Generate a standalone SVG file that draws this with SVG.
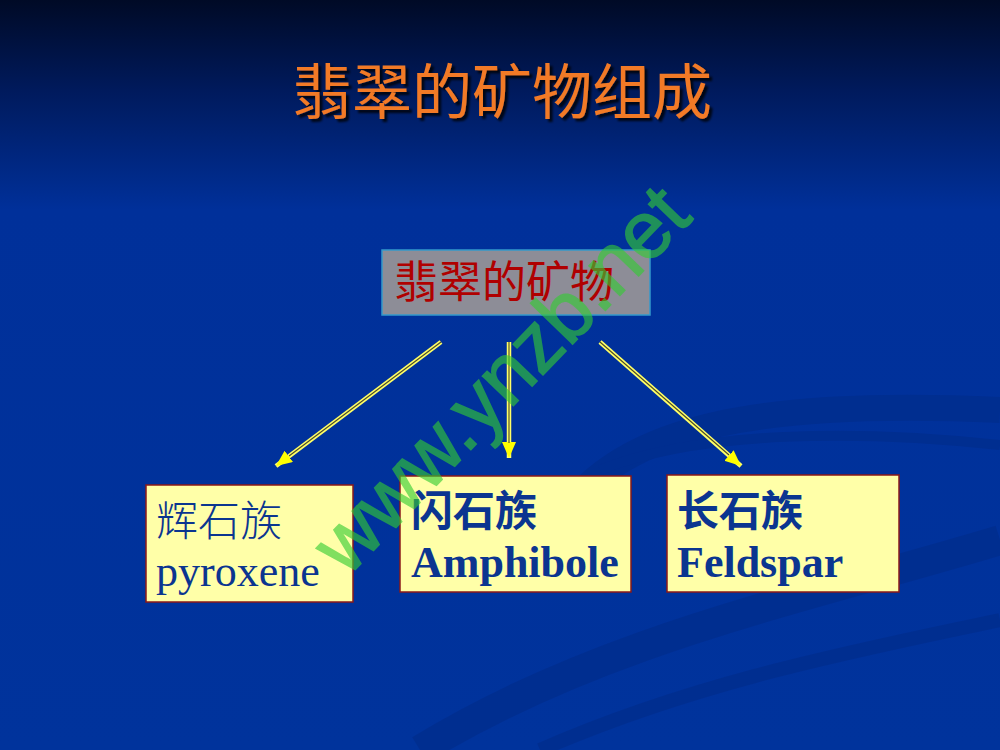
<svg xmlns="http://www.w3.org/2000/svg" width="1000" height="750" viewBox="0 0 1000 750">
<defs>
<linearGradient id="bg" x1="0" y1="0" x2="0" y2="1">
<stop offset="0" stop-color="#000a26"/>
<stop offset="0.12" stop-color="#001a5c"/>
<stop offset="0.28" stop-color="#00309a"/>
<stop offset="1" stop-color="#00339c"/>
</linearGradient>
<marker id="ah" markerUnits="userSpaceOnUse" markerWidth="18" markerHeight="16" refX="16" refY="7" orient="auto">
<path d="M0,0 L16,7 L0,14 z" fill="#ffff00"/>
</marker>
<filter id="sh" x="-5%" y="-20%" width="115%" height="150%">
<feGaussianBlur in="SourceAlpha" stdDeviation="1.2" result="b"/>
<feOffset in="b" dx="3" dy="3" result="o"/>
<feFlood flood-color="#000000" flood-opacity="0.8"/>
<feComposite in2="o" operator="in" result="s"/>
<feMerge><feMergeNode in="s"/><feMergeNode in="SourceGraphic"/></feMerge>
</filter>
</defs>
<style>
.outer{stroke:#ffff66;stroke-width:4.5;fill:none}
.inner{stroke:#4a4a2a;stroke-width:1.1;fill:none}
.box{fill:#ffffa8;stroke:#8a1a1a;stroke-width:1.5}
.cn{font-family:"Noto Sans CJK SC",sans-serif;font-size:42px;fill:#0b3590}
.en{font-family:"Liberation Serif",serif;font-size:44px;fill:#0b3590}
.b{font-weight:bold}
</style>
<rect width="1000" height="750" fill="url(#bg)"/>
<g id="swoosh" fill="none" stroke="#002d8c" opacity="0.7">
<path d="M560,520 C620,420 780,400 1000,410" stroke-width="26"/>
<path d="M600,470 C700,430 860,430 1000,445" stroke-width="10"/>
<path d="M420,750 C600,640 800,600 1000,540" stroke-width="30"/>
<path d="M540,750 C700,680 860,650 1000,620" stroke-width="14"/>
</g>
<g id="title">
<text x="502" y="114" text-anchor="middle" font-family="Noto Sans CJK SC, sans-serif" font-size="60" fill="#f27a26" filter="url(#sh)">翡翠的矿物组成</text>
</g>
<g id="connectors">
<path class="outer" d="M441,342 L276,466" marker-end="url(#ah)"/>
<path class="inner" d="M441,342 L289,456"/>
<path class="outer" d="M509,342 L509,458" marker-end="url(#ah)"/>
<path class="inner" d="M509,342 L509,443"/>
<path class="outer" d="M600,342 L741,466" marker-end="url(#ah)"/>
<path class="inner" d="M600,342 L729,455"/>
</g>
<g id="root">
<rect x="382" y="250" width="268" height="65" fill="#8d8d97" stroke="#3399cc" stroke-width="1.5"/>
<text x="394" y="298" font-family="Noto Sans CJK SC, sans-serif" font-size="44" fill="#b00000">翡翠的矿物</text>
</g>
<g id="pyroxene">
<rect class="box" x="146" y="485" width="207" height="117"/>
<text class="cn" x="156" y="536" font-weight="300">辉石族</text>
<text class="en" x="156" y="586" font-size="42">pyroxene</text>
</g>
<g id="amphibole">
<rect class="box" x="400" y="476" width="231" height="116"/>
<text class="cn b" x="411" y="526">闪石族</text>
<text class="en b" x="411" y="577">Amphibole</text>
</g>
<g id="feldspar">
<rect class="box" x="667" y="475" width="232" height="117"/>
<text class="cn b" x="677" y="526">长石族</text>
<text class="en b" x="677" y="577">Feldspar</text>
</g>
<g id="watermark">
<text x="347" y="578" transform="rotate(-46 347 578)" font-family="Liberation Sans, sans-serif" font-size="81" fill="#33cc33" opacity="0.62" stroke="#33cc33" stroke-width="1.5">www.ynzb.net</text>
</g>
</svg>
